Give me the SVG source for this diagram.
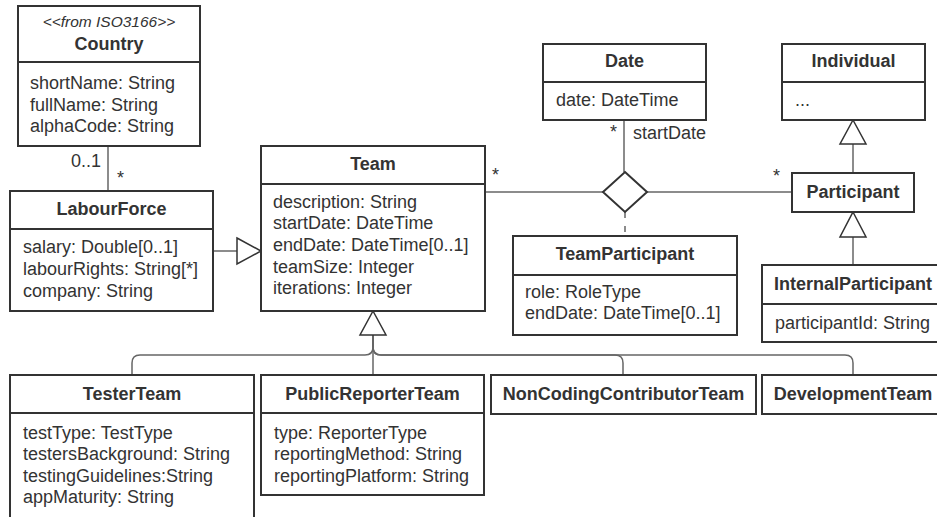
<svg xmlns="http://www.w3.org/2000/svg" width="937" height="517" viewBox="0 0 937 517">
<style>
  .box { fill: #ffffff; stroke: #333333; stroke-width: 2; }
  .div { stroke: #333333; stroke-width: 2; fill: none; }
  .t { font-family: "Liberation Sans", Arial, sans-serif; font-size: 18px; fill: #333333; }
  .h { font-family: "Liberation Sans", Arial, sans-serif; font-size: 18px; font-weight: bold; fill: #333333; text-anchor: middle; }
  .st { font-family: "Liberation Sans", Arial, sans-serif; font-size: 15.5px; font-style: italic; fill: #333333; text-anchor: middle; }
  .ln { stroke: #666666; stroke-width: 1.5; fill: none; }
  .tri { fill: #ffffff; stroke: #333333; stroke-width: 1.5; }
  .dia { fill: #ffffff; stroke: #333333; stroke-width: 2; }
</style>
<rect width="937" height="517" fill="#ffffff"/>

<g id="connectors">
  <path class="ln" d="M108,146 V191"/>
  <path class="ln" d="M213,251 H237"/>
  <polygon class="tri" points="237,238 261,251 237,264"/>
  <path class="ln" d="M485,192 H603"/>
  <path class="ln" d="M647,192 H792"/>
  <path class="ln" d="M624,120 V172"/>
  <path class="ln" d="M625,212 V236" stroke-dasharray="6 8"/>
  <polygon class="dia" points="625,172 647,192 625,212 603,192"/>
  <path class="ln" d="M373,335 V347 Q373,355 365,355 H140 Q132,355 132,363 V375"/>
  <path class="ln" d="M373,335 V375"/>
  <path class="ln" d="M373,335 V347 Q373,355 381,355 H615 Q623,355 623,363 V375"/>
  <path class="ln" d="M373,335 V347 Q373,355 381,355 H845 Q853,355 853,363 V375"/>
  <polygon class="tri" points="373,311 386,335 360,335"/>
  <path class="ln" d="M853,144 V173"/>
  <polygon class="tri" points="853,120 866,144 840,144"/>
  <path class="ln" d="M853,237 V265"/>
  <polygon class="tri" points="853,212 866,237 840,237"/>
  <text class="t" x="71" y="167">0..1</text>
  <text class="t" x="117" y="184">*</text>
  <text class="t" x="492" y="181">*</text>
  <text class="t" x="610" y="138">*</text>
  <text class="t" x="633" y="139">startDate</text>
  <text class="t" x="773" y="182">*</text>
</g>

<g id="Country">
  <rect class="box" x="18" y="6" width="182" height="140"/>
  <line class="div" x1="18" y1="62" x2="200" y2="62"/>
  <text class="st" x="109" y="27">&lt;&lt;from ISO3166&gt;&gt;</text>
  <text class="h" x="109" y="50">Country</text>
  <text class="t" x="30" y="89">shortName: String</text>
  <text class="t" x="30" y="111">fullName: String</text>
  <text class="t" x="30" y="132">alphaCode: String</text>
</g>

<g id="LabourForce">
  <rect class="box" x="10" y="191" width="203" height="120"/>
  <line class="div" x1="10" y1="229" x2="213" y2="229"/>
  <text class="h" x="111.5" y="215">LabourForce</text>
  <text class="t" x="23" y="253">salary: Double[0..1]</text>
  <text class="t" x="23" y="274.5">labourRights: String[*]</text>
  <text class="t" x="23" y="296.5">company: String</text>
</g>

<g id="Team">
  <rect class="box" x="261" y="146" width="224" height="165"/>
  <line class="div" x1="261" y1="184" x2="485" y2="184"/>
  <text class="h" x="373" y="169.5">Team</text>
  <text class="t" x="273" y="207.5">description: String</text>
  <text class="t" x="273" y="229">startDate: DateTime</text>
  <text class="t" x="273" y="251">endDate: DateTime[0..1]</text>
  <text class="t" x="273" y="272.5">teamSize: Integer</text>
  <text class="t" x="273" y="294">iterations: Integer</text>
</g>

<g id="Date">
  <rect class="box" x="543" y="44" width="163" height="76"/>
  <line class="div" x1="543" y1="82" x2="706" y2="82"/>
  <text class="h" x="624.5" y="67">Date</text>
  <text class="t" x="556" y="106">date: DateTime</text>
</g>

<g id="TeamParticipant">
  <rect class="box" x="513" y="236" width="224" height="99"/>
  <line class="div" x1="513" y1="275" x2="737" y2="275"/>
  <text class="h" x="625" y="260">TeamParticipant</text>
  <text class="t" x="525" y="297.5">role: RoleType</text>
  <text class="t" x="525" y="319">endDate: DateTime[0..1]</text>
</g>

<g id="Individual">
  <rect class="box" x="782" y="44" width="143" height="76"/>
  <line class="div" x1="782" y1="82" x2="925" y2="82"/>
  <text class="h" x="853.5" y="67">Individual</text>
  <text class="t" x="795" y="106">...</text>
</g>

<g id="Participant">
  <rect class="box" x="792" y="173" width="122" height="39"/>
  <text class="h" x="853" y="198">Participant</text>
</g>

<g id="InternalParticipant">
  <rect class="box" x="762" y="265" width="182" height="77"/>
  <line class="div" x1="762" y1="304" x2="944" y2="304"/>
  <text class="h" x="853" y="290">InternalParticipant</text>
  <text class="t" x="775" y="329">participantId: String</text>
</g>

<g id="TesterTeam">
  <rect class="box" x="10" y="375" width="244" height="150"/>
  <line class="div" x1="10" y1="413" x2="254" y2="413"/>
  <text class="h" x="132" y="400">TesterTeam</text>
  <text class="t" x="23" y="438.5">testType: TestType</text>
  <text class="t" x="23" y="460">testersBackground: String</text>
  <text class="t" x="23" y="481.5">testingGuidelines:String</text>
  <text class="t" x="23" y="503">appMaturity: String</text>
</g>

<g id="PublicReporterTeam">
  <rect class="box" x="261" y="375" width="223" height="120"/>
  <line class="div" x1="261" y1="413" x2="484" y2="413"/>
  <text class="h" x="372.5" y="400">PublicReporterTeam</text>
  <text class="t" x="274" y="438.5">type: ReporterType</text>
  <text class="t" x="274" y="460">reportingMethod: String</text>
  <text class="t" x="274" y="481.5">reportingPlatform: String</text>
</g>

<g id="NonCodingContributorTeam">
  <rect class="box" x="491" y="375" width="265" height="39"/>
  <text class="h" x="623.5" y="400">NonCodingContributorTeam</text>
</g>

<g id="DevelopmentTeam">
  <rect class="box" x="762" y="375" width="182" height="39"/>
  <text class="h" x="853" y="400">DevelopmentTeam</text>
</g>
</svg>
